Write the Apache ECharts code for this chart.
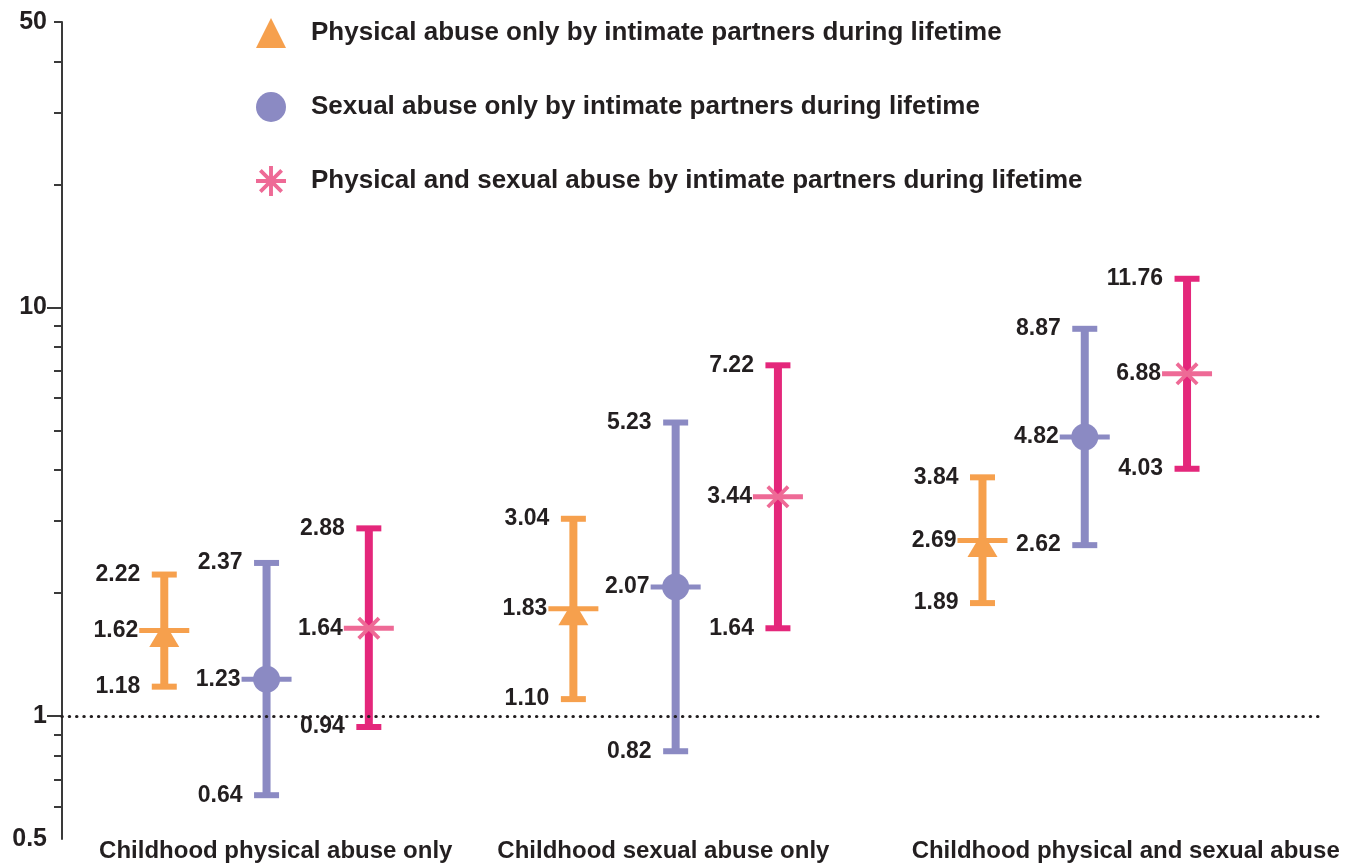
<!DOCTYPE html>
<html>
<head>
<meta charset="utf-8">
<script src="https://cdn.jsdelivr.net/npm/echarts@6/dist/echarts.min.js"></script>
<style>
html,body{margin:0;padding:0;background:#fff;}
#chart{width:1363px;height:863px;}
</style>
</head>
<body>
<div id="chart"></div>
<script>
// ---------- data ----------
const categories = ['Childhood physical abuse only', 'Childhood sexual abuse only', 'Childhood physical and sexual abuse'];
const seriesNames = [
  'Physical abuse only by intimate partners during lifetime',
  'Sexual abuse only by intimate partners during lifetime',
  'Physical and sexual abuse by intimate partners during lifetime'
];
const physicalEst  = [1.62, 1.83, 2.69];
const physicalLow  = [1.18, 1.10, 1.89];
const physicalHigh = [2.22, 3.04, 3.84];
const sexualEst    = [1.23, 2.07, 4.82];
const sexualLow    = [0.64, 0.82, 2.62];
const sexualHigh   = [2.37, 5.23, 8.87];
const bothEst      = [1.64, 3.44, 6.88];
const bothLow      = [0.94, 1.64, 4.03];
const bothHigh     = [2.88, 7.22, 11.76];
const yLabelValues = [0.5, 1, 10, 50];
const yMajorTicks  = [1, 10];
const yMinorTicks  = [0.6, 0.7, 0.8, 0.9, 2, 3, 4, 5, 6, 7, 8, 9, 20, 30, 40, 50];
const referenceValue = 1;

// ---------- layout / style ----------
const FONT = '"Liberation Sans", Arial, Helvetica, sans-serif';
const TEXT = '#231F20';
const colors = ['#F6A04D', '#8B8AC3', '#EE6A96'];
const barColors = ['#F6A04D', '#8B8AC3', '#E4277B'];
const labelCenters = [2.09, 5.88, 10.4];
const xOf = (g, k) => 4 * g + k + 1;

const asteriskIcon = 'path://M8.7,0 L11.3,0 L11.3,20 L8.7,20 Z M0,8.7 L20,8.7 L20,11.3 L0,11.3 Z ' +
  'M2.0,3.8 L3.8,2.0 L18.0,16.2 L16.2,18.0 Z M16.2,2.0 L18.0,3.8 L3.8,18.0 L2.0,16.2 Z';
const xMark = 'path://M0.94,3.06 L3.06,0.94 L19.06,16.94 L16.94,19.06 Z M16.94,0.94 L19.06,3.06 L3.06,19.06 L0.94,16.94 Z';

const groups = [
  [physicalEst, physicalLow, physicalHigh],
  [sexualEst, sexualLow, sexualHigh],
  [bothEst, bothLow, bothHigh]
];

function barData(k) {
  const [e, l, h] = groups[k];
  return categories.map((c, g) => [xOf(g, k), l[g], e[g], h[g]]);
}
function pointData(k) {
  const e = groups[k][0];
  return categories.map((c, g) => [xOf(g, k), e[g]]);
}

function makeRender(k) {
  return function (params, api) {
    const x = api.value(0), lo = api.value(1), est = api.value(2), hi = api.value(3);
    const pLo = api.coord([x, lo]), pHi = api.coord([x, hi]), pE = api.coord([x, est]);
    const cx = pE[0];
    const bc = barColors[k], cc = colors[k];
    const fmt = v => v.toFixed(2);
    const txt = (s, tx, ty) => ({
      type: 'text', z2: 5,
      style: { text: s, x: tx, y: ty, fill: TEXT, font: 'bold 23px ' + FONT, align: 'right', verticalAlign: 'middle' }
    });
    return {
      type: 'group',
      children: [
        { type: 'line', shape: { x1: cx, y1: pLo[1], x2: cx, y2: pHi[1] }, style: { stroke: bc, lineWidth: 8 } },
        { type: 'line', shape: { x1: cx - 12.5, y1: pLo[1], x2: cx + 12.5, y2: pLo[1] }, style: { stroke: bc, lineWidth: 6 } },
        { type: 'line', shape: { x1: cx - 12.5, y1: pHi[1], x2: cx + 12.5, y2: pHi[1] }, style: { stroke: bc, lineWidth: 6 } },
        { type: 'line', shape: { x1: cx - 25, y1: pE[1], x2: cx + 25, y2: pE[1] }, style: { stroke: cc, lineWidth: 5 } },
        txt(fmt(hi), cx - 24, pHi[1]),
        txt(fmt(est), cx - 26, pE[1]),
        txt(fmt(lo), cx - 24, pLo[1])
      ]
    };
  };
}

const symbols = ['triangle', 'circle', xMark];
const symbolSizes = [[30, 25], 27, 23];
const symbolOffsets = [[0, 4], [0, 0], [0, 0]];

const series = [];
[0, 1, 2].forEach(k => {
  series.push({
    name: seriesNames[k], type: 'scatter', z: 4,
    data: pointData(k), symbol: symbols[k], symbolSize: symbolSizes[k], symbolOffset: symbolOffsets[k],
    itemStyle: { color: colors[k], opacity: 1 }, silent: true,
    markLine: k === 0 ? {
      silent: true, symbol: 'none', label: { show: false },
      lineStyle: { color: TEXT, width: 3.2, type: [0.3, 7], cap: 'round' },
      data: [{ yAxis: referenceValue }]
    } : undefined
  });
});
[0, 1, 2].forEach(k => {
  series.push({
    name: seriesNames[k], type: 'custom', z: 2, silent: true,
    itemStyle: { color: colors[k] },
    renderItem: makeRender(k), data: barData(k),
    encode: { x: 0, y: [1, 2, 3] }
  });
});

const chart = echarts.init(document.getElementById('chart'), null, { renderer: 'canvas' });
chart.setOption({
  backgroundColor: '#fff',
  animation: false,
  grid: { left: 62, right: 43, top: 22, bottom: 18, containLabel: false },
  legend: {
    orient: 'vertical', left: 251, top: 13, itemWidth: 30, itemHeight: 30, itemGap: 44,
    selectedMode: false,
    data: [
      { name: seriesNames[0], icon: 'triangle' },
      { name: seriesNames[1], icon: 'circle' },
      { name: seriesNames[2], icon: asteriskIcon }
    ],
    textStyle: { fontSize: 26, fontWeight: 'bold', color: TEXT, fontFamily: FONT, padding: [0, 0, 0, 20] }
  },
  xAxis: {
    type: 'value', min: 0, max: 12.3,
    axisLine: { show: false }, axisTick: { show: false }, splitLine: { show: false },
    axisLabel: {
      customValues: labelCenters, margin: 0,
      formatter: v => { const i = labelCenters.findIndex(c => Math.abs(c - v) < 1e-6); return i >= 0 ? categories[i] : ''; },
      fontSize: 24, fontWeight: 'bold', color: TEXT, fontFamily: FONT
    }
  },
  yAxis: [
    {
      type: 'log', logBase: 10, min: 0.5, max: 50,
      axisLine: { show: true, lineStyle: { color: '#3A3A3A', width: 2 } },
      axisTick: { show: true, customValues: yMajorTicks, length: 15, lineStyle: { color: '#3A3A3A', width: 2 } },
      splitLine: { show: false },
      axisLabel: {
        customValues: yLabelValues, margin: 15,
        formatter: v => String(+(+v).toPrecision(3)),
        fontSize: 25, fontWeight: 'bold', color: TEXT, fontFamily: FONT
      }
    },
    {
      type: 'log', logBase: 10, min: 0.5, max: 50, position: 'left',
      axisLine: { show: false },
      axisTick: { show: true, customValues: yMinorTicks, length: 8, lineStyle: { color: '#3A3A3A', width: 2 } },
      splitLine: { show: false },
      axisLabel: { show: false }
    }
  ],
  series: series
});
</script>
</body>
</html>
